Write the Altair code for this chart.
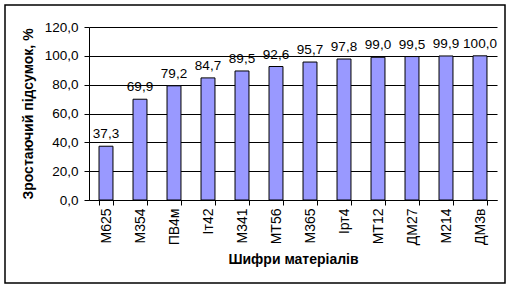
import altair as alt
import pandas as pd

materials = ["М625", "М354", "ПВ4м", "Іт42", "М341", "МТ56", "М365", "Ірт4", "МТ12", "ДМ27", "М214", "ДМ3в"]
cumulative = [37.3, 69.9, 79.2, 84.7, 89.5, 92.6, 95.7, 97.8, 99.0, 99.5, 99.9, 100.0]
y_ticks = [0, 20, 40, 60, 80, 100, 120]

df = pd.DataFrame({"material": materials, "value": cumulative})

FONT = "Liberation Sans"

x_enc = alt.X(
    "material:N",
    sort=materials,
    scale=alt.Scale(paddingInner=0.59, paddingOuter=0.295),
    axis=alt.Axis(
        title="Шифри матеріалів",
        labelAngle=270,
        tickBand="extent",
        tickSize=5,
        tickColor="black",
        domainColor="black",
        labelPadding=3,
        labelFont=FONT,
        labelFontSize=14,
        labelColor="black",
        labelOverlap=False,
        titleFont=FONT,
        titleFontSize=14,
        titleFontWeight="bold",
        titleColor="black",
        titlePadding=8,
        grid=False,
    ),
)

y_enc = alt.Y(
    "value:Q",
    scale=alt.Scale(domain=[0, 120], nice=False),
    axis=alt.Axis(
        title="Зростаючий підсумок, %",
        values=y_ticks,
        tickCount=7,
        labelExpr="replace(format(datum.value, '.1f'), '.', ',')",
        labelOverlap=False,
        grid=True,
        gridColor="black",
        gridOpacity=1,
        tickSize=5,
        tickColor="black",
        domainColor="black",
        labelPadding=6,
        labelFont=FONT,
        labelFontSize=13.5,
        labelColor="black",
        titleFont=FONT,
        titleFontSize=14,
        titleFontWeight="bold",
        titleColor="black",
        titlePadding=9,
    ),
)

base = alt.Chart(df)

bars = base.mark_bar(color="#9999FF", stroke="black", strokeWidth=1).encode(x=x_enc, y=y_enc)

labels = base.transform_calculate(
    lbl="replace(format(datum.value, '.1f'), '.', ',')"
).mark_text(font=FONT, fontSize=13.5, color="black", dy=-8, baseline="alphabetic").encode(
    x=x_enc,
    y=y_enc,
    text="lbl:N",
)

border = alt.Chart(pd.DataFrame({"a": [0]})).mark_rect(
    fill=None, stroke="black", strokeWidth=1.5
).encode(
    x=alt.value(-84), x2=alt.value(416), y=alt.value(-22), y2=alt.value(256)
)

chart = alt.layer(bars, labels, border).properties(
    width=408,
    height=173,
    autosize=alt.AutoSizeParams(type="none"),
    padding={"left": 89, "top": 27, "right": 15, "bottom": 89},
    background="white",
).configure_view(stroke=None)

chart.save("out.html", embed_options={"renderer": "svg", "actions": False})
